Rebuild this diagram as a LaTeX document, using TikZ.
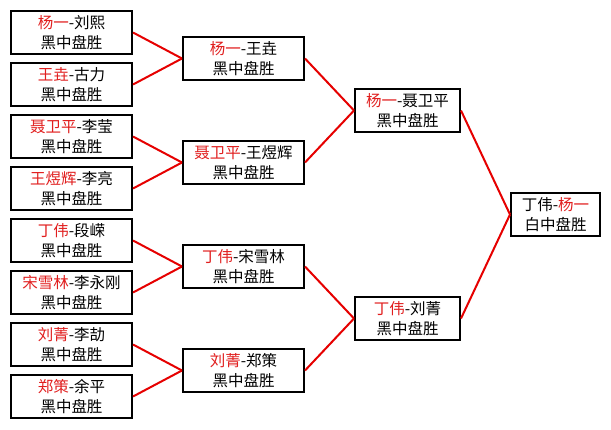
\documentclass[tikz,border=0pt]{standalone}
\usepackage{fontspec}
\setmainfont{Noto Sans CJK SC}
\definecolor{wred}{RGB}{225,30,30}
\definecolor{lred}{RGB}{230,0,0}
\newcommand{\rd}[1]{\textcolor{wred}{#1}}
\begin{document}
\begin{tikzpicture}[x=1pt,y=-1pt,
  gbox/.style={draw=black, line width=2pt, fill=white, minimum width=121pt, minimum height=43pt,
    align=center, inner sep=0pt, font=\fontsize{15.5pt}{20.5pt}\selectfont},
  sbox/.style={gbox, minimum width=105pt},
  fbox/.style={gbox, minimum width=89pt},
  link/.style={draw=lred, line width=2pt}]
\useasboundingbox[fill=white] (0,0) rectangle (611,429);
% round 1
\node[gbox] (a1) at (71.5,32.5)  {\rd{杨一}-刘熙\\黑中盘胜};
\node[gbox] (a2) at (71.5,84.5)  {\rd{王垚}-古力\\黑中盘胜};
\node[gbox] (a3) at (71.5,136.5) {\rd{聂卫平}-李莹\\黑中盘胜};
\node[gbox] (a4) at (71.5,188.5) {\rd{王煜辉}-李亮\\黑中盘胜};
\node[gbox] (a5) at (71.5,240.5) {\rd{丁伟}-段嵘\\黑中盘胜};
\node[gbox] (a6) at (71.5,292.5) {\rd{宋雪林}-李永刚\\黑中盘胜};
\node[gbox] (a7) at (71.5,344.5) {\rd{刘菁}-李劼\\黑中盘胜};
\node[gbox] (a8) at (71.5,396.5) {\rd{郑策}-余平\\黑中盘胜};
% round 2
\node[gbox] (b1) at (243.5,58.5)  {\rd{杨一}-王垚\\黑中盘胜};
\node[gbox] (b2) at (243.5,162.5) {\rd{聂卫平}-王煜辉\\黑中盘胜};
\node[gbox] (b3) at (243.5,266.5) {\rd{丁伟}-宋雪林\\黑中盘胜};
\node[gbox] (b4) at (243.5,370.5) {\rd{刘菁}-郑策\\黑中盘胜};
% round 3
\node[sbox] (c1) at (407.5,110.5) {\rd{杨一}-聂卫平\\黑中盘胜};
\node[sbox] (c2) at (407.5,318.5) {\rd{丁伟}-刘菁\\黑中盘胜};
% final
\node[fbox] (d1) at (555.5,214.5) {丁伟-\rd{杨一}\\白中盘胜};
% links
\draw[link] (a1.east) -- (b1.west);
\draw[link] (a2.east) -- (b1.west);
\draw[link] (a3.east) -- (b2.west);
\draw[link] (a4.east) -- (b2.west);
\draw[link] (a5.east) -- (b3.west);
\draw[link] (a6.east) -- (b3.west);
\draw[link] (a7.east) -- (b4.west);
\draw[link] (a8.east) -- (b4.west);
\draw[link] (b1.east) -- (c1.west);
\draw[link] (b2.east) -- (c1.west);
\draw[link] (b3.east) -- (c2.west);
\draw[link] (b4.east) -- (c2.west);
\draw[link] (c1.east) -- (d1.west);
\draw[link] (c2.east) -- (d1.west);
\end{tikzpicture}
\end{document}
